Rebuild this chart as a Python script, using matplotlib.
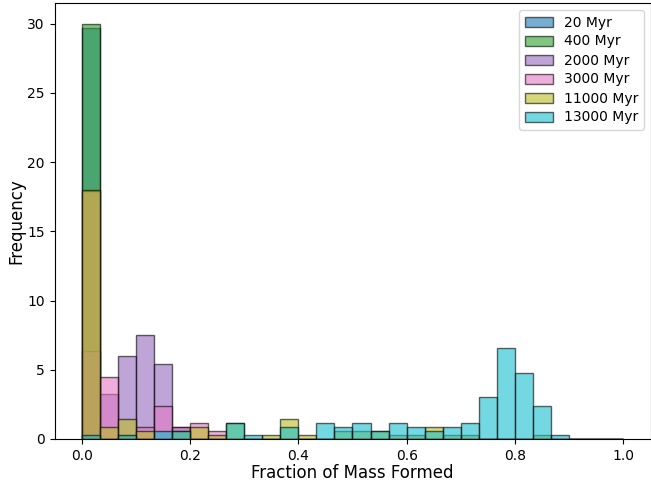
import numpy as np
import matplotlib
matplotlib.use("Agg")
import matplotlib.pyplot as plt

# bins: 30 equal bins between 0 and 1
bin_edges = np.linspace(0, 1, 31)

labels = ["20 Myr", "400 Myr", "2000 Myr", "3000 Myr", "11000 Myr", "13000 Myr"]
colors = ["tab:blue", "tab:green", "tab:purple", "tab:pink", "tab:olive", "tab:cyan"]

# bar heights per bin
h_20 = [29.71, 0, 0.29] + [0] * 27
h_400 = [30.0] + [0] * 29
h_2000 = [6.35, 3.27, 6.0, 7.5, 5.44, 0.87] + [0] * 24
h_3000 = [17.9, 4.5, 0, 0.87, 2.4, 0.87, 1.15, 0.58] + [0] * 22
h_11000 = [18.0, 0.87, 1.44, 0.58, 0, 0.58, 0.87, 0.29, 1.15, 0,
           0.29, 1.44, 0.29, 0, 0.58, 0.58, 0.58, 0.29, 0.29, 0.87,
           0.29, 0.29, 0, 0, 0, 0.29, 0, 0, 0, 0]
h_13000 = [0.29, 0, 0.29, 0, 0.58, 0.58, 0, 0, 1.15, 0.29,
           0, 0.87, 0, 1.15, 0.87, 1.15, 0.58, 1.15, 0.87, 0.58,
           0.87, 1.15, 3.0, 6.56, 4.8, 2.4, 0.29, 0, 0, 0]

heights = [h_20, h_400, h_2000, h_3000, h_11000, h_13000]
centers = (bin_edges[:-1] + bin_edges[1:]) / 2

fig = plt.figure(figsize=(6.51, 4.83), dpi=100)
ax = fig.add_axes([54.5 / 651, 44 / 483, 596 / 651, 436 / 483])

for lab, col, h in zip(labels, colors, heights):
    ax.hist(centers, bins=bin_edges, weights=h, alpha=0.6,
            color=col, edgecolor="black", label=lab)

ax.set_xlabel("Fraction of Mass Formed", fontsize=12, labelpad=1)
ax.set_ylabel("Frequency", fontsize=12, labelpad=1.5)
ax.tick_params(labelsize=10)
ax.legend(loc="upper right", fontsize=10, labelspacing=0.36,
          borderaxespad=0.5)

fig.savefig("out.png", dpi=100)
